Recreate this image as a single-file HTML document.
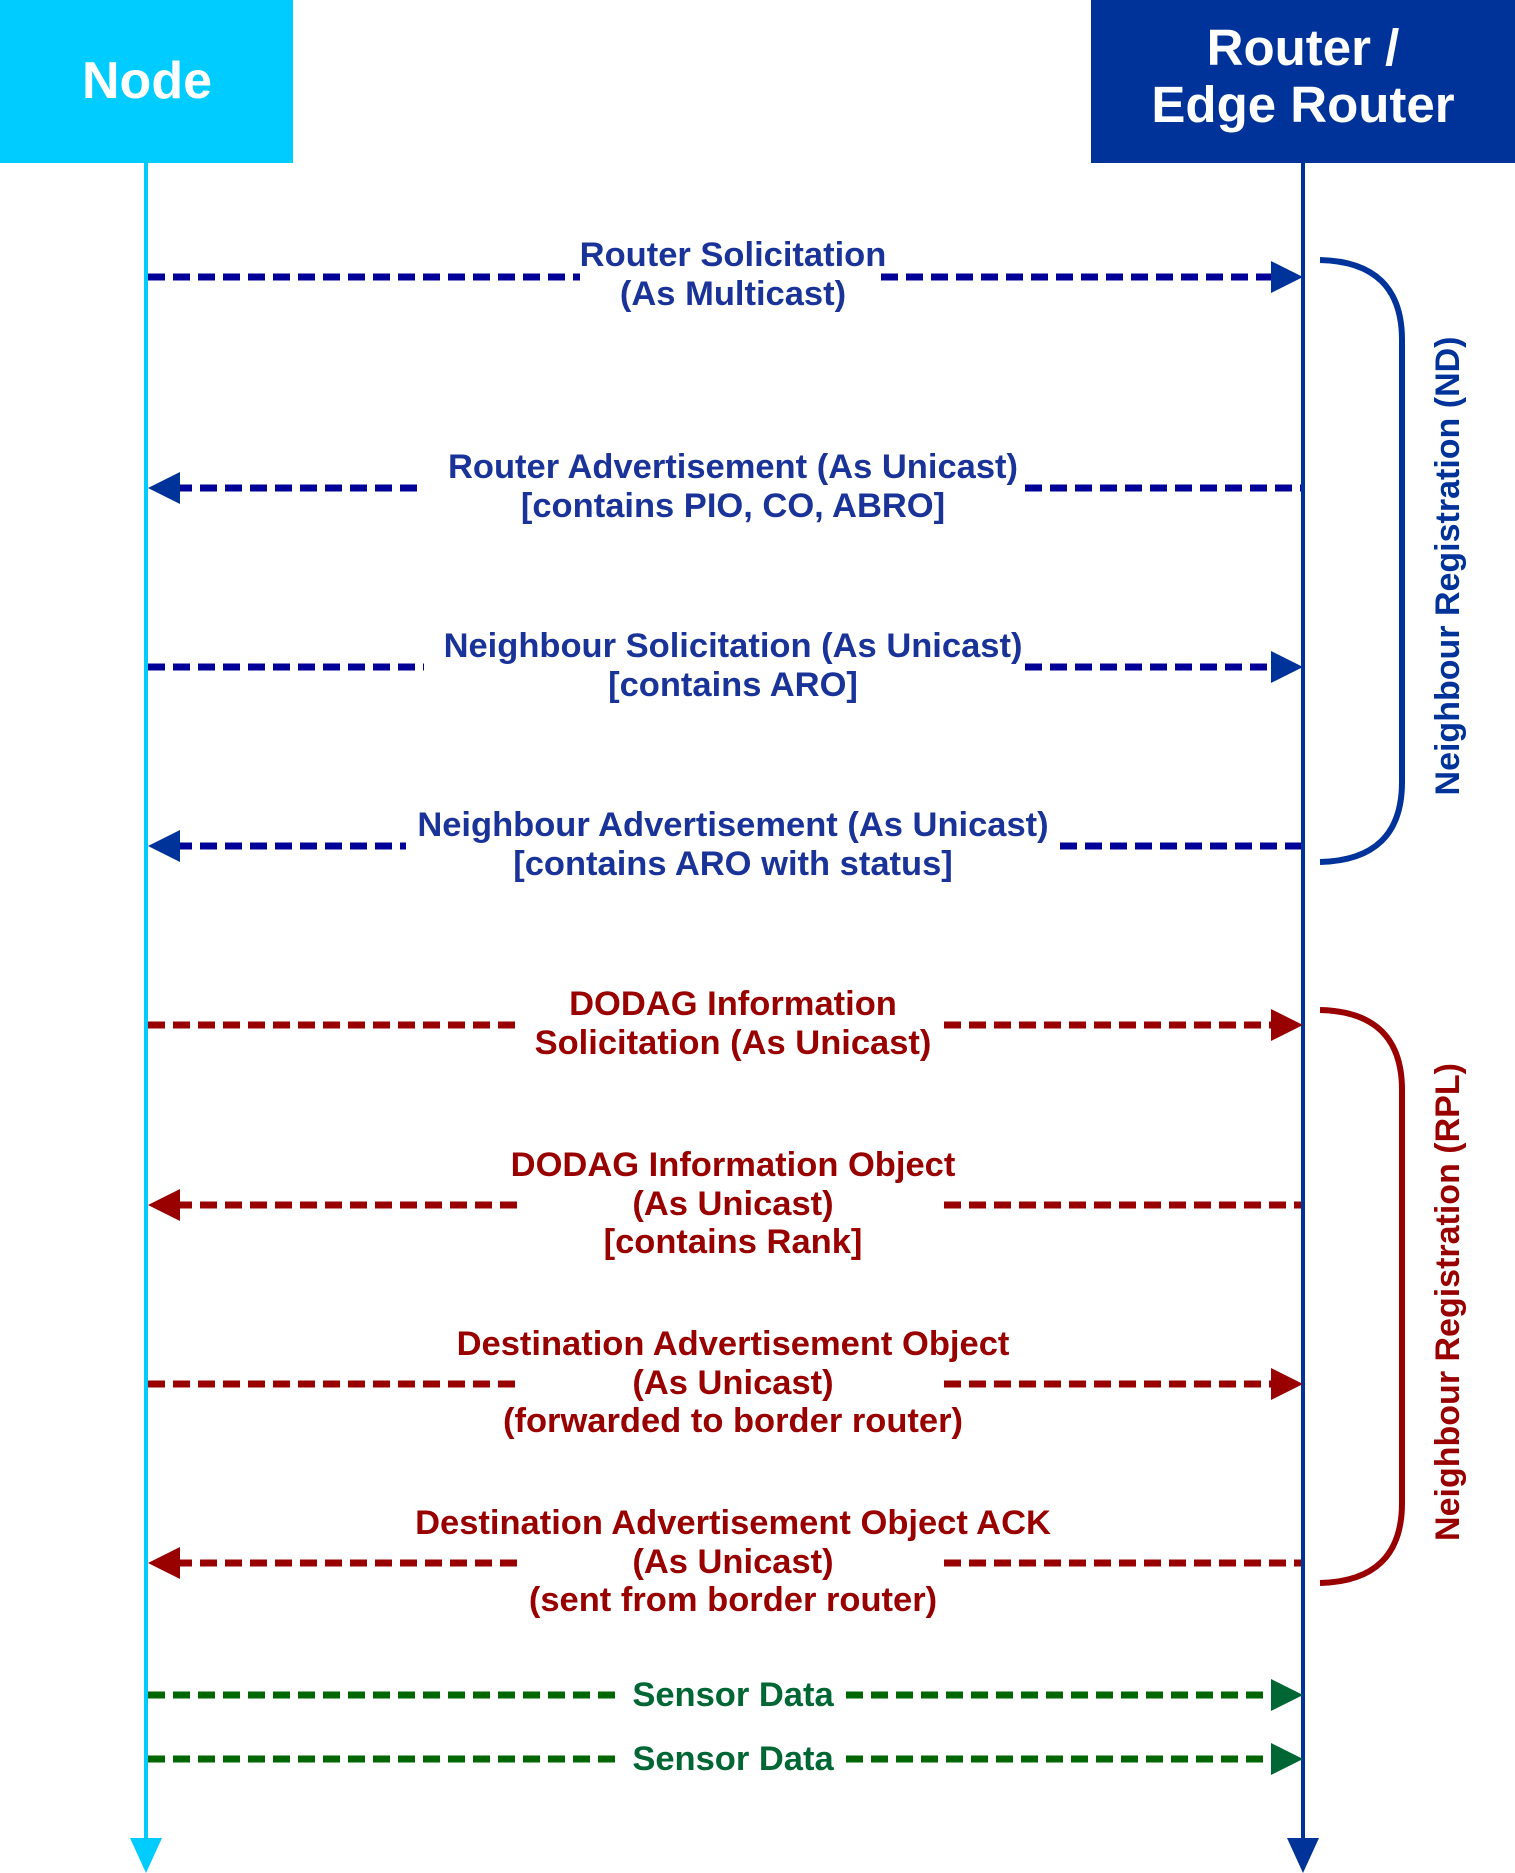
<!DOCTYPE html>
<html><head><meta charset="utf-8"><style>
html,body{margin:0;padding:0;background:#fff}
svg{display:block}
text{font-family:"Liberation Sans",Arial,sans-serif;font-weight:bold}
</style></head><body>
<svg width="1515" height="1873" viewBox="0 0 1515 1873" xmlns="http://www.w3.org/2000/svg">
<rect x="0" y="0" width="293" height="163" fill="#00CCFF"/>
<rect x="1091" y="0" width="424" height="163" fill="#003399"/>
<text x="147" y="98" font-size="52" fill="#fff" text-anchor="middle">Node</text>
<text x="1303" y="65" font-size="51" fill="#fff" text-anchor="middle">Router /</text>
<text x="1303" y="122" font-size="51" fill="#fff" text-anchor="middle">Edge Router</text>
<line x1="146" y1="163" x2="146" y2="1845" stroke="#00CCFF" stroke-width="4"/>
<polygon points="130,1838 162,1838 146,1873" fill="#00CCFF"/>
<line x1="1303" y1="163" x2="1303" y2="1845" stroke="#003399" stroke-width="4"/>
<polygon points="1287,1838 1319,1838 1303,1873" fill="#003399"/>
<g stroke-width="7" stroke-dasharray="17 8" fill="none">
<g stroke="#000099">
<line x1="148" y1="277" x2="580" y2="277"/><line x1="881" y1="277" x2="1272" y2="277"/>
<line x1="175" y1="488" x2="424" y2="488"/><line x1="1025" y1="488" x2="1301" y2="488"/>
<line x1="148" y1="667" x2="424" y2="667"/><line x1="1025" y1="667" x2="1272" y2="667"/>
<line x1="175" y1="846" x2="406" y2="846"/><line x1="1060" y1="846" x2="1301" y2="846"/>
</g>
<g stroke="#990000">
<line x1="148" y1="1025" x2="520" y2="1025"/><line x1="944" y1="1025" x2="1272" y2="1025"/>
<line x1="175" y1="1205" x2="520" y2="1205"/><line x1="944" y1="1205" x2="1301" y2="1205"/>
<line x1="148" y1="1384" x2="520" y2="1384"/><line x1="944" y1="1384" x2="1272" y2="1384"/>
<line x1="175" y1="1563" x2="520" y2="1563"/><line x1="944" y1="1563" x2="1301" y2="1563"/>
</g>
<g stroke="#006600">
<line x1="148" y1="1695" x2="619" y2="1695"/><line x1="846" y1="1695" x2="1272" y2="1695"/>
<line x1="148" y1="1759" x2="619" y2="1759"/><line x1="846" y1="1759" x2="1272" y2="1759"/>
</g>
</g>
<g fill="#003399">
<polygon points="1271,261 1303,277 1271,293"/>
<polygon points="180,472 148,488 180,504"/>
<polygon points="1271,651 1303,667 1271,683"/>
<polygon points="180,830 148,846 180,862"/>
</g>
<g fill="#990000">
<polygon points="1271,1009 1303,1025 1271,1041"/>
<polygon points="180,1189 148,1205 180,1221"/>
<polygon points="1271,1368 1303,1384 1271,1400"/>
<polygon points="180,1547 148,1563 180,1579"/>
</g>
<g fill="#006633">
<polygon points="1271,1679 1303,1695 1271,1711"/>
<polygon points="1271,1743 1303,1759 1271,1775"/>
</g>
<path d="M1320,260 Q1402,262 1402,340 L1402,782 Q1402,860 1320,862" fill="none" stroke="#003399" stroke-width="6"/>
<path d="M1320,1010 Q1402,1012 1402,1090 L1402,1503 Q1402,1581 1320,1583" fill="none" stroke="#990000" stroke-width="6"/>
<text transform="translate(1459,566) rotate(-90)" font-size="34" fill="#003399" text-anchor="middle">Neighbour Registration (ND)</text>
<text transform="translate(1459,1302) rotate(-90)" font-size="34" fill="#990000" text-anchor="middle">Neighbour Registration (RPL)</text>
<g font-size="34.5" text-anchor="middle">
<g fill="#1a3399">
<text x="733" y="266">Router Solicitation</text><text x="733" y="305">(As Multicast)</text>
<text x="733" y="478">Router Advertisement (As Unicast)</text><text x="733" y="517">[contains PIO, CO, ABRO]</text>
<text x="733" y="657">Neighbour Solicitation (As Unicast)</text><text x="733" y="696">[contains ARO]</text>
<text x="733" y="836">Neighbour Advertisement (As Unicast)</text><text x="733" y="875">[contains ARO with status]</text>
</g>
<g fill="#990000">
<text x="733" y="1015">DODAG Information</text><text x="733" y="1054">Solicitation (As Unicast)</text>
<text x="733" y="1176">DODAG Information Object</text><text x="733" y="1215">(As Unicast)</text><text x="733" y="1253">[contains Rank]</text>
<text x="733" y="1355">Destination Advertisement Object</text><text x="733" y="1394">(As Unicast)</text><text x="733" y="1432">(forwarded to border router)</text>
<text x="733" y="1534">Destination Advertisement Object ACK</text><text x="733" y="1573">(As Unicast)</text><text x="733" y="1611">(sent from border router)</text>
</g>
<g fill="#006633">
<text x="733" y="1706">Sensor Data</text><text x="733" y="1770">Sensor Data</text>
</g>
</g>
</svg>
</body></html>
